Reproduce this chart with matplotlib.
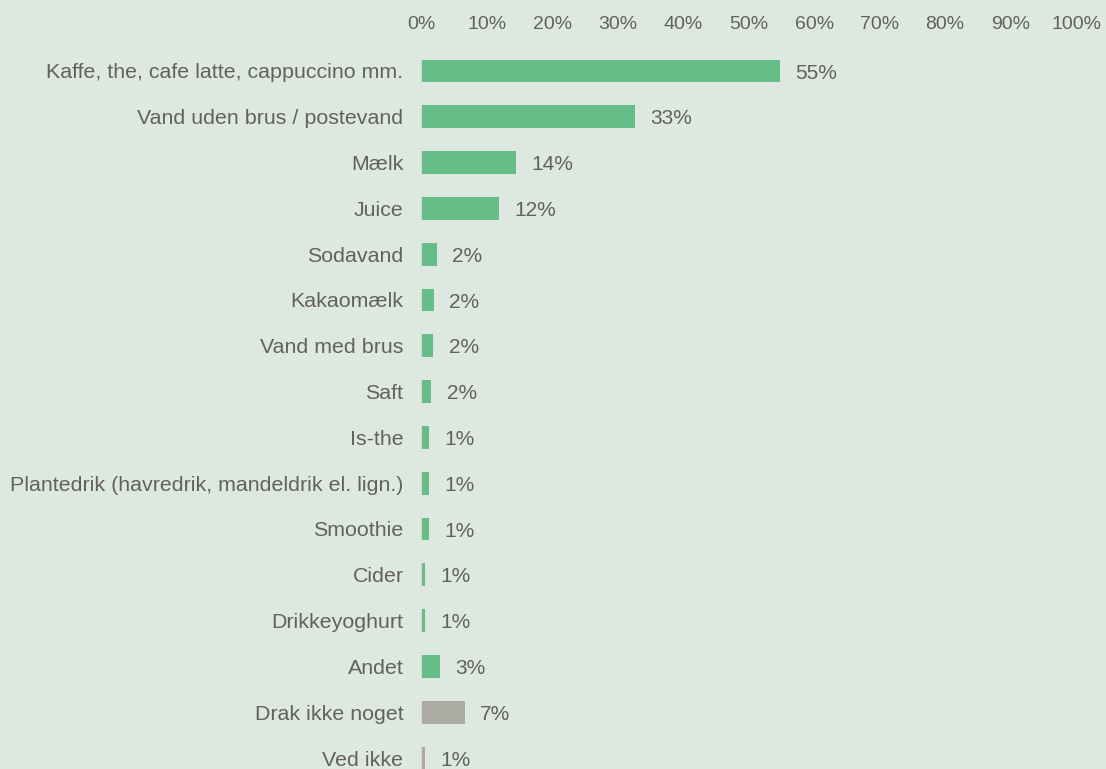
import matplotlib

matplotlib.use("Agg")
import matplotlib.pyplot as plt

categories = [
    "Kaffe, the, cafe latte, cappuccino mm.",
    "Vand uden brus / postevand",
    "Mælk",
    "Juice",
    "Sodavand",
    "Kakaomælk",
    "Vand med brus",
    "Saft",
    "Is-the",
    "Plantedrik (havredrik, mandeldrik el. lign.)",
    "Smoothie",
    "Cider",
    "Drikkeyoghurt",
    "Andet",
    "Drak ikke noget",
    "Ved ikke",
]
shares = [54.8, 32.6, 14.4, 11.8, 2.3, 1.9, 1.8, 1.5, 1.1, 1.1, 1.1, 0.6, 0.6, 2.8, 6.6, 0.6]
groups = ["drink"] * 14 + ["none"] * 2
xticks = list(range(0, 101, 10))

BG = "#dde8e1"
TEXT = "#63625a"
COLORS = {"drink": "#66bd87", "none": "#abaaa3"}

plt.rcParams["font.family"] = ["Liberation Sans", "DejaVu Sans"]

fig = plt.figure(figsize=(11.06, 7.69), dpi=100, facecolor=BG)
ax = fig.add_axes([0.3811, -0.0155, 0.5918, 0.953], facecolor=BG)

ypos = list(range(len(categories)))
ax.barh(ypos, shares, height=0.5, color=[COLORS[g] for g in groups], zorder=2)

# value labels just right of each bar
for y, v in zip(ypos, shares):
    ax.annotate(f"{v:.0f}%", xy=(v, y), xytext=(11, -1.5), textcoords="offset points",
                ha="left", va="center", fontsize=15, color=TEXT)

ax.set_xlim(0, 100)
ax.set_ylim(len(categories) - 0.5, -0.5)
ax.set_yticks(ypos)
ax.set_yticklabels(categories, fontsize=15.4, color=TEXT)
ax.set_xticks(xticks)
ax.set_xticklabels([f"{t}%" for t in xticks], fontsize=14, color=TEXT)
ax.xaxis.tick_top()
ax.tick_params(axis="x", length=0, pad=11)
ax.tick_params(axis="y", length=0, pad=13)

for side in ["top", "right", "bottom"]:
    ax.spines[side].set_visible(False)
ax.spines["left"].set_color("#e6e2de")
ax.spines["left"].set_linewidth(1.2)

fig.savefig("out.png", dpi=100, facecolor=BG)
